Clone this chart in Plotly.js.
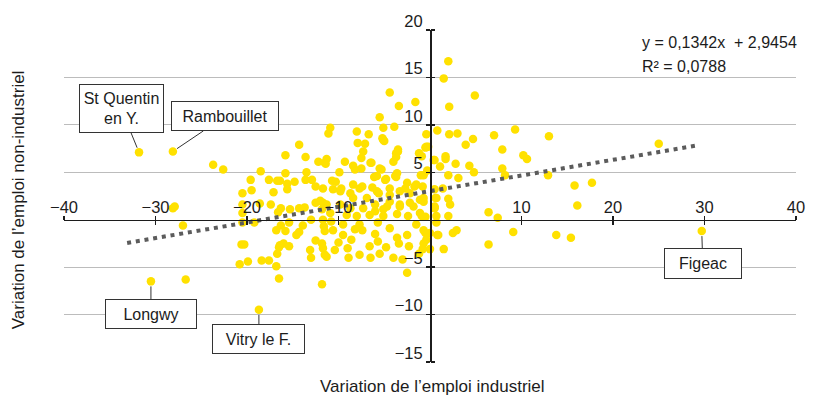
<!DOCTYPE html>
<html>
<head>
<meta charset="utf-8">
<script src="https://cdn.plot.ly/plotly-3.0.1.min.js"></script>
<style>
  html, body { margin: 0; padding: 0; background: #fff; }
  #chart { width: 835px; height: 414px; }
</style>
</head>
<body>
<div id="chart"></div>
<script>
// ---------- Data ----------
// Variation de l'emploi industriel (x) / non-industriel (y), one dot per zone
const pointsX = [
  -28.1, -27.9, -27.0, -26.7, 25.0,
  -23.7, -22.6, -18.5, -19.6, -17.6, -16.7, -16.4, -15.8, -15.6, -14.8, -13.5, -13.6, -12.9, -12.5,
  -20.5, -19.5, -17.1, -15.6, -18.6, -17.4, -16.3, -16.6, -15.3, -14.3, -13.7, -12.5, -12.0, -11.7,
  -20.5, -20.5, -20.5, -19.2, -16.3, -15.4, -16.8, -15.8, -14.3, -14.6, -13.9, -13.0, -11.7, -11.6,
  -12.5, -11.8, -20.6, -20.3, -16.5, -16.4, -16.0, -15.4, -16.7, -13.1, -13.0, -11.5, -20.8, -19.9,
  -18.4, -17.6, -16.8, -16.5, -11.8, -15.8, -14.3, -13.6, -12.2, -11.4, -11.3, -10.9, -11.1,
  -4.4, -3.4, -1.6, -5.5, -8.0, -6.7, -5.1, -3.9, -5.2, -5.0, -7.9, -7.1, -7.3, -3.5, -3.7, -0.4,
  -1.2, -0.5, -7.5, -6.5, -3.7, -4.0, -11.5, -9.3, -8.4, -7.5, -8.2, -5.5, -5.3, -9.9, -3.6, -3.7,
  -4.8, -6.1, -1.0, -10.7, -10.3, -8.4, -7.4, -6.3, -2.7, -1.7, -9.7, -11.7, -0.9, -0.4, -0.3,
  -5.1, -3.5, -6.4, -5.8, -4.9, -3.8, -2.5, -1.5, -0.7, -0.2, 0.5,
  -6.0, -4.7, -3.3, -1.8, -0.7, 0.5, -2.2, -4.4, -5.6,
  -10.6, -9.8, -8.7, -7.7, -8.4, -6.9, -5.8, -4.4, -3.3, -11.3, -9.8, -8.7, -7.3, -6.0, -5.1, -4.4,
  -3.3, -2.2, -1.1, -10.9, -9.1, -8.0, -6.6, -5.1, -3.6, -2.4, -1.1, -11.8,
  -11.5, -10.6, -9.5, -8.6, -7.4, -6.6, -5.7, -4.4, -3.6, -3.4, -2.3, -2.5, -0.7, -0.7, -11.7, -11.3,
  -10.4, -8.9, -7.7, -6.5, -5.5, -7.7, -9.5, -5.7, -1.5, -2.5, -10.0, -9.0, -6.0, -4.8, -3.0, -1.2,
  -8.2, -4.0, -10.8,
  2.0, 1.5, 4.9, 2.1, 0.8, 2.1, 3.0, 4.7, 3.9, 7.0, 9.3, 7.9, 1.7, 1.7, 0.4, 1.1, 2.8, 4.3, 4.8,
  7.9, 10.2, 10.6, 2.0, 3.1, 13.0, 12.9, 15.8, 17.7, 16.1, 8.2, 0.7, 2.0, 2.2, 6.4, 7.4, 0.5, 2.0,
  0.7, -0.5, 0.0, 0.8, -0.4, -0.8, 0.0, -0.5, -0.8, 0.5, 1.4, -0.7, 0.6, 0.5, 0.7, -0.9, 9.1, 2.5,
  2.9, 1.5, 6.4, 13.8, 15.4, 0.9
];
const pointsY = [
  1.2, 1.4, -0.6, -6.3, 8.0,
  5.8, 5.3, 5.1, 4.2, 4.2, 4.1, 4.1, 4.9, 3.8, 4.0, 5.0, 4.2, 4.2, 3.5,
  2.8, 3.1, 2.9, 3.2, 1.7, 1.6, 1.2, 0.8, 1.1, 1.2, 1.3, 1.8, 2.0, 1.8,
  1.6, 0.7, -0.3, -0.3, -0.6, -0.3, -1.1, -1.2, -1.3, -1.6, -0.6, 0.0, 0.0, -0.7,
  -2.2, -2.5, -2.6, -2.6, -2.9, -2.7, -2.5, -2.8, -3.6, -3.2, -4.0, -3.7, -4.7, -4.4,
  -4.3, -4.3, -4.9, -6.2, -6.8, 6.8, 7.9, 6.6, 6.1, 5.9, 6.4, 9.7, 9.1,
  13.4, 12.0, 12.4, 10.8, 9.3, 9.0, 9.7, 9.8, 8.6, 8.3, 8.1, 8.0, 7.2, 7.4, 7.0, 9.0,
  7.0, 7.6, 6.5, 6.0, 6.6, 6.1, 6.0, 6.1, 5.7, 5.4, 5.3, 5.4, 5.3, 5.0, 4.9, 4.5,
  4.3, 4.5, 4.7, 4.1, 4.0, 3.7, 3.5, 3.4, 3.3, 3.5, 3.3, 3.3, 6.7, 7.7, 5.2,
  8.4, 7.2, 6.0, 4.6, 4.2, 4.6, 3.9, 3.7, 4.7, 7.7, 6.3,
  0.9, 1.4, 1.6, 1.4, 1.9, 1.4, 2.8, 2.6, 2.8,
  3.2, 3.0, 2.8, 3.3, 2.3, 2.3, 3.0, 3.3, 3.0, 1.6, 1.6, 1.2, 1.2, 1.6, 1.1, 1.9,
  1.4, 1.8, 2.1, 0.7, 0.5, 0.4, 0.5, 0.4, 0.6, 0.4, 0.7, 1.1,
  -1.2, -1.1, -1.6, -2.1, -1.1, -2.8, -2.3, -0.9, -1.9, -2.5, -2.8, -1.6, -1.1, -2.5, -3.0, -3.9,
  -3.2, -4.0, -3.7, -4.0, -3.6, -0.5, -0.5, -0.3, -0.5, -5.6, -2.4, -3.0, -1.5, -2.9, -4.2, -3.6,
  -1.0, -4.0, -0.2,
  16.7, 14.9, 13.1, 11.9, 9.4, 9.0, 9.1, 8.5, 7.9, 8.9, 9.5, 7.4, 6.7, 6.4, 6.3, 5.6, 5.9, 5.7, 5.0,
  5.4, 6.8, 6.4, 4.7, 4.4, 8.8, 4.7, 3.6, 3.9, 1.5, 4.7, 2.3, 2.2, 1.6, 0.8, 0.2, 1.2, 0.4,
  -0.3, -1.4, -1.4, -1.6, -2.1, -3.1, -3.1, 0.3, 3.5, 3.2, 3.3, 2.3, 2.3, 1.3, 0.4, 0.4, -1.3, -1.4,
  -1.1, -3.1, -2.6, -1.6, -1.9, -1.6
];

// Labelled zones
const townNames = ["St Quentin<br>en Y.", "Rambouillet", "Longwy", "Vitry le F.", "Figeac"];
const townX = [-31.8, -28.1, -30.5, -18.7, 29.7];
const townY = [7.1, 7.2, -6.5, -9.5, -1.2];
// label box offsets (px) from the dot, and inner box sizes
const townAx = [-18, 52, 0, 0, 1];
const townAy = [-44, -35, 33, 29, 32];
const townW = [75, 98, 82, 83, 68];
const townH = [39, 20, 20, 20, 21];

// Trend line as drawn (dotted), endpoints
const trendX = [-33.1, 29.3];
const trendY = [-2.45, 7.85];
const equationText = "y = 0,1342x  + 2,9454";
const r2Text = "R² = 0,0788";

const xTickVals = [-40, -30, -20, -10, 10, 20, 30, 40];
const xTickText = ["\u221240", "\u221230", "\u221220", "\u221210", "10", "20", "30", "40"];
const yTickVals = [-15, -10, -5, 5, 10, 15, 20];
const yTickText = ["\u221215", "\u221210", "\u22125", "5", "10", "15", "20"];

const X_RANGE = [-40, 40];
const Y_RANGE = [-15, 20];

// ---------- Style ----------
const FONT = "'Liberation Sans Narrow', 'Arial Narrow', 'Liberation Sans', Arial, sans-serif";
const INK = "#1c1c1c";
const YELLOW = "#FFE100";
const GRID = "#bcbcbc";

const xZeroPos = (0 - Y_RANGE[0]) / (Y_RANGE[1] - Y_RANGE[0]);
const yZeroPos = (0 - X_RANGE[0]) / (X_RANGE[1] - X_RANGE[0]);

const traces = [
  {
    x: pointsX.concat(townX),
    y: pointsY.concat(townY),
    type: "scatter",
    mode: "markers",
    marker: { color: YELLOW, size: 8.5, line: { width: 0 } },
    hoverinfo: "x+y",
    showlegend: false,
  },
  {
    x: trendX,
    y: trendY,
    type: "scatter",
    mode: "lines",
    line: { color: "#5c5c5c", width: 4, dash: "4px,4.8px" },
    hoverinfo: "skip",
    showlegend: false,
  },
  // empty trace so the mirrored axes (tick marks on the other side) get drawn
  { x: [], y: [], xaxis: "x2", yaxis: "y2", type: "scatter", hoverinfo: "skip", showlegend: false },
];

const tickFont = { family: FONT, size: 16.5, color: INK };

const annotations = townNames.map((name, i) => ({
  x: townX[i], y: townY[i], xref: "x", yref: "y",
  text: name,
  showarrow: true, arrowhead: 0, arrowwidth: 1, arrowcolor: "#333",
  ax: townAx[i], ay: townAy[i], standoff: 5,
  width: townW[i], height: townH[i],
  bgcolor: "#fff", bordercolor: "#333", borderwidth: 1, borderpad: 4,
  font: { family: FONT, size: 16, color: INK },
}));

annotations.push(
  { x: 22.9, y: 18.65, xref: "x", yref: "y", xanchor: "left", yanchor: "middle",
    text: equationText, showarrow: false, font: { family: FONT, size: 16, color: INK } },
  { x: 22.9, y: 16.1, xref: "x", yref: "y", xanchor: "left", yanchor: "middle",
    text: r2Text, showarrow: false, font: { family: FONT, size: 16, color: INK } },
  { x: 0.503, y: -0.074, xref: "paper", yref: "paper", xanchor: "center", yanchor: "middle",
    text: "Variation de l’emploi industriel", showarrow: false,
    font: { family: FONT, size: 17, color: INK } },
  { x: -0.063, y: 0.49, xref: "paper", yref: "paper", xanchor: "center", yanchor: "middle",
    textangle: -90, text: "Variation de l’emploi non-industriel", showarrow: false,
    font: { family: FONT, size: 17, color: INK } }
);

const layout = {
  width: 835,
  height: 414,
  margin: { l: 64, r: 39, t: 30, b: 52 },
  paper_bgcolor: "#fff",
  plot_bgcolor: "#fff",
  font: { family: FONT, color: INK },
  showlegend: false,
  // x axis crosses at y = 0: labels above, ticks crossing the line
  xaxis: {
    range: X_RANGE, anchor: "free", position: xZeroPos, side: "top",
    showline: true, linecolor: INK, linewidth: 1.5,
    ticks: "inside", ticklen: 4, tickwidth: 1.5, tickcolor: INK,
    tickmode: "array", tickvals: xTickVals, ticktext: xTickText, tickfont: tickFont,
    showgrid: false, zeroline: false,
  },
  xaxis2: {
    range: X_RANGE, overlaying: "x", anchor: "free", position: xZeroPos, side: "top",
    showline: false, ticks: "outside", ticklen: 4, tickwidth: 1.5, tickcolor: INK,
    tickmode: "array", tickvals: xTickVals, showticklabels: false,
    showgrid: false, zeroline: false,
  },
  // y axis crosses at x = 0
  yaxis: {
    range: Y_RANGE, anchor: "free", position: yZeroPos, side: "left",
    showline: true, linecolor: INK, linewidth: 1.5,
    ticks: "outside", ticklen: 4, tickwidth: 1.5, tickcolor: INK,
    tickmode: "array", tickvals: yTickVals, ticktext: yTickText, tickfont: tickFont,
    ticklabelshift: -9,
    showgrid: true, gridcolor: GRID, gridwidth: 1.2, zeroline: false,
  },
  yaxis2: {
    range: Y_RANGE, overlaying: "y", anchor: "free", position: yZeroPos, side: "right",
    showline: false, ticks: "outside", ticklen: 4, tickwidth: 1.5, tickcolor: INK,
    tickmode: "array", tickvals: yTickVals, showticklabels: false,
    showgrid: false, zeroline: false,
  },
  annotations: annotations,
};

Plotly.newPlot("chart", traces, layout, { displayModeBar: false, staticPlot: true });
</script>
</body>
</html>
